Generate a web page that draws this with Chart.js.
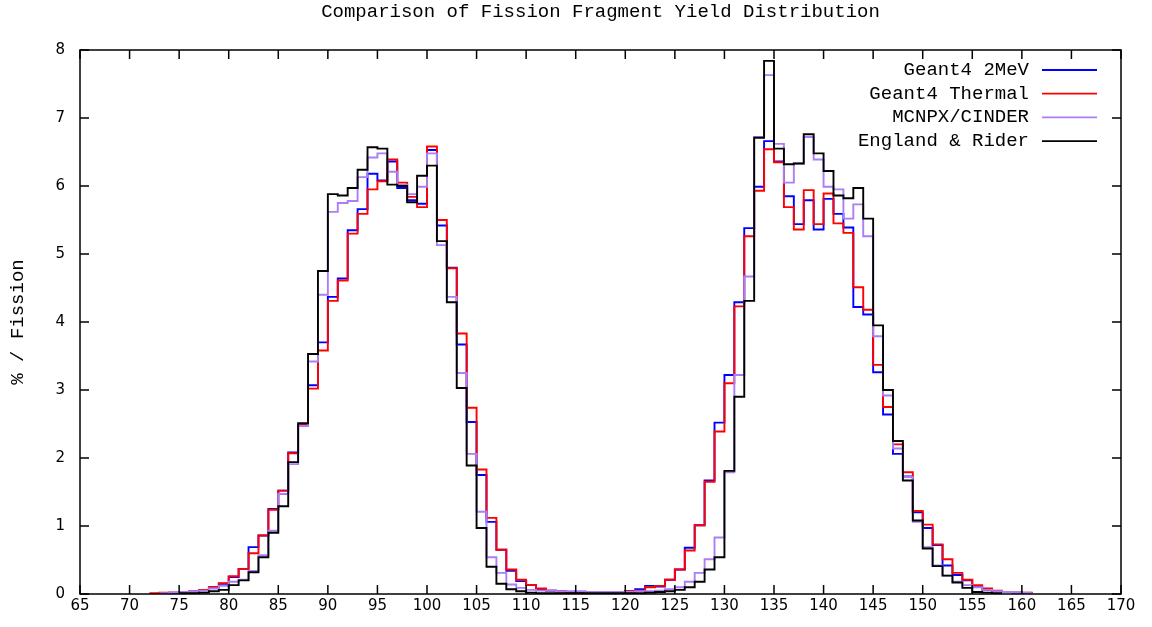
<!DOCTYPE html>
<html>
<head>
<meta charset="utf-8">
<title>Fission Fragment Yield</title>
<script src="https://cdn.jsdelivr.net/npm/chart.js@4.4.1/dist/chart.umd.min.js"></script>
<style>
  html, body { margin: 0; padding: 0; background: #fff; }
  #wrap { width: 1152px; height: 627px; }
</style>
</head>
<body>
<div id="wrap"><canvas id="yieldChart"></canvas></div>
<script>
// mass numbers A, one bin per A (bin covers A .. A+1)
const massNumbers = [
   72,  73,  74,  75,  76,  77,  78,  79,  80,  81,
   82,  83,  84,  85,  86,  87,  88,  89,  90,  91,
   92,  93,  94,  95,  96,  97,  98,  99, 100, 101,
  102, 103, 104, 105, 106, 107, 108, 109, 110, 111,
  112, 113, 114, 115, 116, 117, 118, 119, 120, 121,
  122, 123, 124, 125, 126, 127, 128, 129, 130, 131,
  132, 133, 134, 135, 136, 137, 138, 139, 140, 141,
  142, 143, 144, 145, 146, 147, 148, 149, 150, 151,
  152, 153, 154, 155, 156, 157, 158, 159, 160, 161
];

// yields in % per fission
const geant2MeV = [
  null, 0.01, 0.02, 0.03, 0.04, 0.06, 0.10, 0.15, 0.25, 0.37,
  0.69, 0.86, 1.25, 1.52, 2.08, 2.48, 3.07, 3.70, 4.37, 4.64,
  5.35, 5.66, 6.18, 6.08, 6.36, 5.97, 5.79, 5.74, 6.53, 5.42,
  4.80, 3.67, 2.53, 1.75, 1.06, 0.65, 0.34, 0.19, 0.13, 0.07,
  0.05, 0.04, 0.03, 0.03, 0.03, 0.03, 0.03, 0.03, 0.04, 0.07,
  0.12, 0.11, 0.21, 0.36, 0.68, 1.01, 1.67, 2.52, 3.22, 4.29,
  5.38, 5.99, 6.66, 6.36, 5.85, 5.44, 5.79, 5.36, 5.81, 5.59,
  5.39, 4.22, 4.11, 3.26, 2.64, 2.06, 1.73, 1.20, 0.97, 0.72,
  0.42, 0.28, 0.20, 0.11, 0.06, 0.04, 0.03, 0.02, 0.01, null
];

const geantThermal = [
  0.01, 0.02, 0.02, 0.03, 0.04, 0.06, 0.10, 0.16, 0.26, 0.37,
  0.60, 0.86, 1.24, 1.52, 2.07, 2.49, 3.02, 3.58, 4.31, 4.61,
  5.30, 5.59, 5.95, 6.07, 6.39, 6.05, 5.84, 5.69, 6.58, 5.50,
  4.79, 3.83, 2.74, 1.83, 1.12, 0.65, 0.36, 0.21, 0.13, 0.08,
  0.05, 0.04, 0.03, 0.02, 0.03, 0.03, 0.03, 0.03, 0.04, 0.05,
  0.10, 0.12, 0.21, 0.36, 0.64, 1.01, 1.65, 2.39, 3.10, 4.23,
  5.26, 5.93, 6.54, 6.35, 5.69, 5.36, 5.94, 5.44, 5.89, 5.45,
  5.31, 4.51, 4.18, 3.37, 2.75, 2.20, 1.79, 1.22, 1.02, 0.73,
  0.51, 0.31, 0.21, 0.13, 0.08, 0.05, 0.03, 0.03, 0.02, 0.01
];

const mcnpxCinder = [
  null, 0.01, 0.02, 0.03, 0.04, 0.05, 0.08, 0.12, 0.18, 0.21,
  0.34, 0.57, 0.93, 1.47, 1.91, 2.47, 3.42, 4.40, 5.62, 5.75,
  5.78, 6.13, 6.42, 6.48, 6.21, 6.02, 5.88, 5.99, 6.48, 5.13,
  4.37, 3.25, 2.06, 1.21, 0.54, 0.31, 0.14, 0.09, 0.06, 0.05,
  0.05, 0.04, 0.04, 0.04, 0.03, 0.03, 0.03, 0.03, 0.03, 0.04,
  0.04, 0.05, 0.07, 0.10, 0.18, 0.31, 0.51, 0.83, 1.79, 3.22,
  4.67, 6.72, 7.63, 6.62, 6.05, 6.33, 6.72, 6.39, 5.99, 5.95,
  5.52, 5.73, 5.26, 3.79, 2.92, 2.14, 1.72, 1.06, 0.69, 0.42,
  0.27, 0.18, 0.13, 0.10, 0.06, 0.04, 0.03, 0.03, 0.02, 0.02
];

const englandRider = [
  null, null, null, 0.01, 0.01, 0.02, 0.04, 0.06, 0.13, 0.20,
  0.32, 0.54, 0.90, 1.29, 1.94, 2.51, 3.53, 4.75, 5.88, 5.86,
  5.97, 6.24, 6.57, 6.55, 6.02, 6.00, 5.76, 6.15, 6.30, 5.19,
  4.29, 3.03, 1.89, 0.97, 0.40, 0.15, 0.07, 0.04, 0.02, 0.01,
  0.01, 0.01, 0.01, 0.01, 0.01, 0.01, 0.01, 0.01, 0.01, 0.01,
  0.02, 0.03, 0.04, 0.06, 0.10, 0.18, 0.36, 0.54, 1.81, 2.90,
  4.31, 6.71, 7.84, 6.55, 6.32, 6.33, 6.76, 6.48, 6.22, 5.86,
  5.82, 5.97, 5.52, 3.95, 3.00, 2.25, 1.67, 1.08, 0.67, 0.41,
  0.27, 0.17, 0.09, 0.03, 0.02, 0.01, 0.01, null, null, null
];

const seriesNames = ['Geant4 2MeV', 'Geant4 Thermal', 'MCNPX/CINDER', 'England & Rider'];
const seriesColors = ['#0000ff', '#ff0000', '#a97ef6', '#000000'];
const seriesValues = [geant2MeV, geantThermal, mcnpxCinder, englandRider];

const xTicks = [65, 70, 75, 80, 85, 90, 95, 100, 105, 110, 115, 120, 125, 130, 135, 140, 145, 150, 155, 160, 165, 170];
const yTicks = [0, 1, 2, 3, 4, 5, 6, 7, 8];

const monoFont = '"Liberation Mono", "DejaVu Sans Mono", monospace';
const tickFont = { family: '"DejaVu Sans", sans-serif', size: 15 };

// frame with inward ticks on all four sides, title and key
const gnuplotFrame = {
  id: 'gnuplotFrame',
  afterDatasetsDraw(chart) {
    const { ctx, chartArea: a, scales: { x, y } } = chart;
    const tick = 9;
    ctx.save();
    ctx.strokeStyle = '#000';
    ctx.lineWidth = 1.5;
    ctx.strokeRect(a.left, a.top, a.right - a.left, a.bottom - a.top);

    ctx.beginPath();
    xTicks.forEach(v => {
      const px = x.getPixelForValue(v);
      ctx.moveTo(px, a.bottom); ctx.lineTo(px, a.bottom - tick);
      ctx.moveTo(px, a.top); ctx.lineTo(px, a.top + tick);
    });
    yTicks.forEach(v => {
      const py = y.getPixelForValue(v);
      ctx.moveTo(a.left, py); ctx.lineTo(a.left + tick, py);
      ctx.moveTo(a.right, py); ctx.lineTo(a.right - tick, py);
    });
    ctx.stroke();

    ctx.fillStyle = '#000';
    ctx.font = '19px ' + monoFont;
    ctx.textBaseline = 'middle';
    ctx.textAlign = 'center';
    ctx.fillText('Comparison of Fission Fragment Yield Distribution', (a.left + a.right) / 2, 12);

    // key, top right inside the frame
    ctx.textAlign = 'right';
    seriesNames.forEach((name, i) => {
      const ky = a.top + 20 + i * 23.7;
      ctx.fillStyle = '#000';
      ctx.fillText(name, a.right - 92, ky);
      ctx.strokeStyle = seriesColors[i];
      ctx.lineWidth = 1.8;
      ctx.beginPath();
      ctx.moveTo(a.right - 79, ky);
      ctx.lineTo(a.right - 24, ky);
      ctx.stroke();
    });
    ctx.restore();
  }
};

const datasets = seriesNames.map((name, i) => ({
  label: name,
  data: massNumbers.map((m, j) => ({ x: m, y: seriesValues[i][j] })),
  borderColor: seriesColors[i],
  borderWidth: 1.9,
  stepped: 'before',
  pointRadius: 0,
  fill: false,
  spanGaps: false,
  order: seriesNames.length - i
}));

new Chart(document.getElementById('yieldChart'), {
  type: 'line',
  data: { datasets: datasets },
  options: {
    responsive: true,
    maintainAspectRatio: false,
    animation: false,
    layout: { padding: { top: 50, right: 31, left: 0, bottom: 0 } },
    plugins: {
      legend: { display: false },
      tooltip: { enabled: false }
    },
    scales: {
      x: {
        type: 'linear',
        min: 65,
        max: 170,
        afterBuildTicks: scale => { scale.ticks = xTicks.map(v => ({ value: v })); },
        afterFit: scale => { scale.height = 33; },
        grid: { display: false, drawTicks: false },
        border: { display: false },
        ticks: {
          autoSkip: false,
          maxRotation: 0,
          padding: 3,
          color: '#000',
          font: tickFont
        }
      },
      y: {
        min: 0,
        max: 8,
        afterBuildTicks: scale => { scale.ticks = yTicks.map(v => ({ value: v })); },
        afterFit: scale => { scale.width = 80; },
        grid: { display: false, drawTicks: false },
        border: { display: false },
        ticks: {
          padding: 15,
          color: '#000',
          font: tickFont
        },
        title: {
          display: true,
          text: '% / Fission',
          color: '#000',
          padding: { top: 7, bottom: 0 },
          font: { family: monoFont, size: 19 }
        }
      }
    }
  },
  plugins: [gnuplotFrame]
});
</script>
</body>
</html>
